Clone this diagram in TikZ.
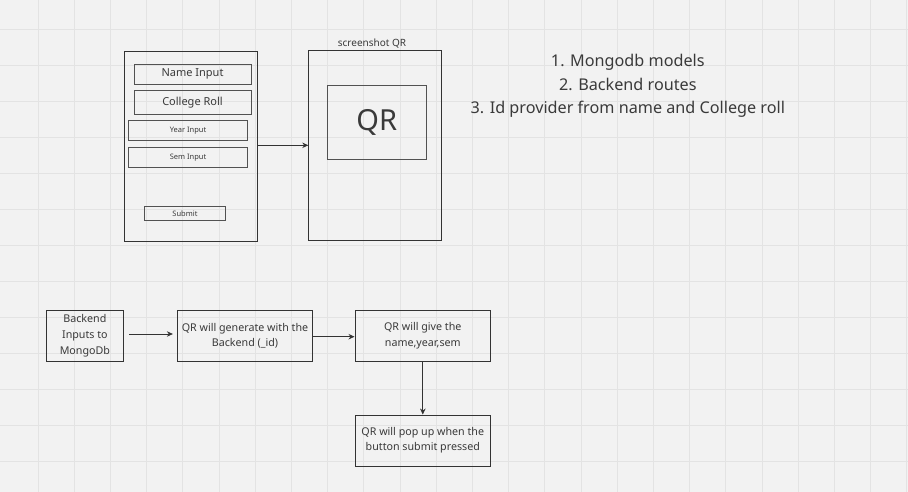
\documentclass[tikz,border=0pt]{standalone}
\usepackage{fontspec}
\setmainfont{Noto Sans}
\usetikzlibrary{arrows.meta}
\definecolor{bg}{HTML}{F2F2F2}
\definecolor{gridc}{HTML}{E3E3E3}
\definecolor{ink}{HTML}{333333}
\definecolor{txt}{HTML}{3A3A3A}
\tikzset{
  box/.style={draw=ink, line width=0.9pt, inner sep=0pt, align=center, text=txt},
  lbox/.style={draw=ink!85, line width=0.85pt, inner sep=0pt, align=center, text=txt},
  conn/.style={draw=ink, line width=0.8pt, -{Stealth[length=6pt,width=5.5pt]}},
}
\begin{document}
\begin{tikzpicture}[x=1pt,y=-1pt]
\fill[bg] (0,0) rectangle (908,492);
\useasboundingbox (0,0) rectangle (908,492);
\foreach \k in {0,...,24} {\draw[gridc, line width=0.8pt] ({38+36.2*\k},0) -- ({38+36.2*\k},492);}
\foreach \k in {0,...,13} {\draw[gridc, line width=0.8pt] (0,{29+36.05*\k}) -- (908,{29+36.05*\k});}

% form
\node[box, minimum width=133pt, minimum height=190pt] (form) at (191,146) {};
\node[lbox, minimum width=117pt, minimum height=20pt, font=\fontsize{11}{13}\selectfont] (name) at (192.5,74.3) {Name Input};
\node[lbox, minimum width=117pt, minimum height=23.5pt, font=\fontsize{11}{13}\selectfont] (roll) at (192.5,102.2) {College Roll};
\node[lbox, minimum width=119.4pt, minimum height=20pt, font=\fontsize{7.5}{9}\selectfont] (year) at (188,130.3) {Year Input};
\node[lbox, minimum width=119.4pt, minimum height=20pt, font=\fontsize{7.5}{9}\selectfont] (sem) at (188,157.7) {Sem Input};
\node[lbox, minimum width=81.4pt, minimum height=14pt, font=\fontsize{7.5}{9}\selectfont] (submit) at (185,213.3) {Submit};

% screenshot
\node[box, minimum width=133pt, minimum height=190pt] (shot) at (375.2,145.7) {};
\node[text=txt, font=\fontsize{10}{12}\selectfont, anchor=base] (shotlbl) at (372,47) {screenshot QR};
\node[lbox, minimum width=98.7pt, minimum height=74.4pt, font=\fontsize{29}{32}\selectfont] (qr) at (376.7,122.5) {QR};

\coordinate (fa) at (form.east |- 0,145.3);
\draw[conn] (fa) -- (fa -| shot.west);

% list
\node[text=txt, font=\fontsize{16.2}{23.5}\selectfont, align=center] (list) at (627.8,86) {1. Mongodb models\\2. Backend routes\\3. Id provider from name and College roll};

% flow
\node[box, minimum width=77.7pt, minimum height=51.7pt, font=\fontsize{10.7}{15.8}\selectfont] (a) at (84.9,335.8) {Backend\\Inputs to\\MongoDb};
\node[box, minimum width=135.4pt, minimum height=51.7pt, font=\fontsize{10.7}{15.3}\selectfont] (b) at (245,335.8) {QR will generate with the\\Backend (\_id)};
\node[box, minimum width=135.7pt, minimum height=51.7pt, font=\fontsize{10.7}{15.3}\selectfont] (c) at (422.8,335.8) {QR will give the\\name,year,sem};
\node[box, minimum width=135.7pt, minimum height=51pt, font=\fontsize{10.7}{15.3}\selectfont] (d) at (422.8,440.5) {QR will pop up when the\\button submit pressed};

\draw[conn, shorten <=5pt, shorten >=4pt] (a.east |- 0,334) -- (b.west |- 0,334);
\draw[conn] (b.east |- 0,336.7) -- (c.west |- 0,336.7);
\draw[conn] (c.south) -- (d.north);
\end{tikzpicture}
\end{document}
